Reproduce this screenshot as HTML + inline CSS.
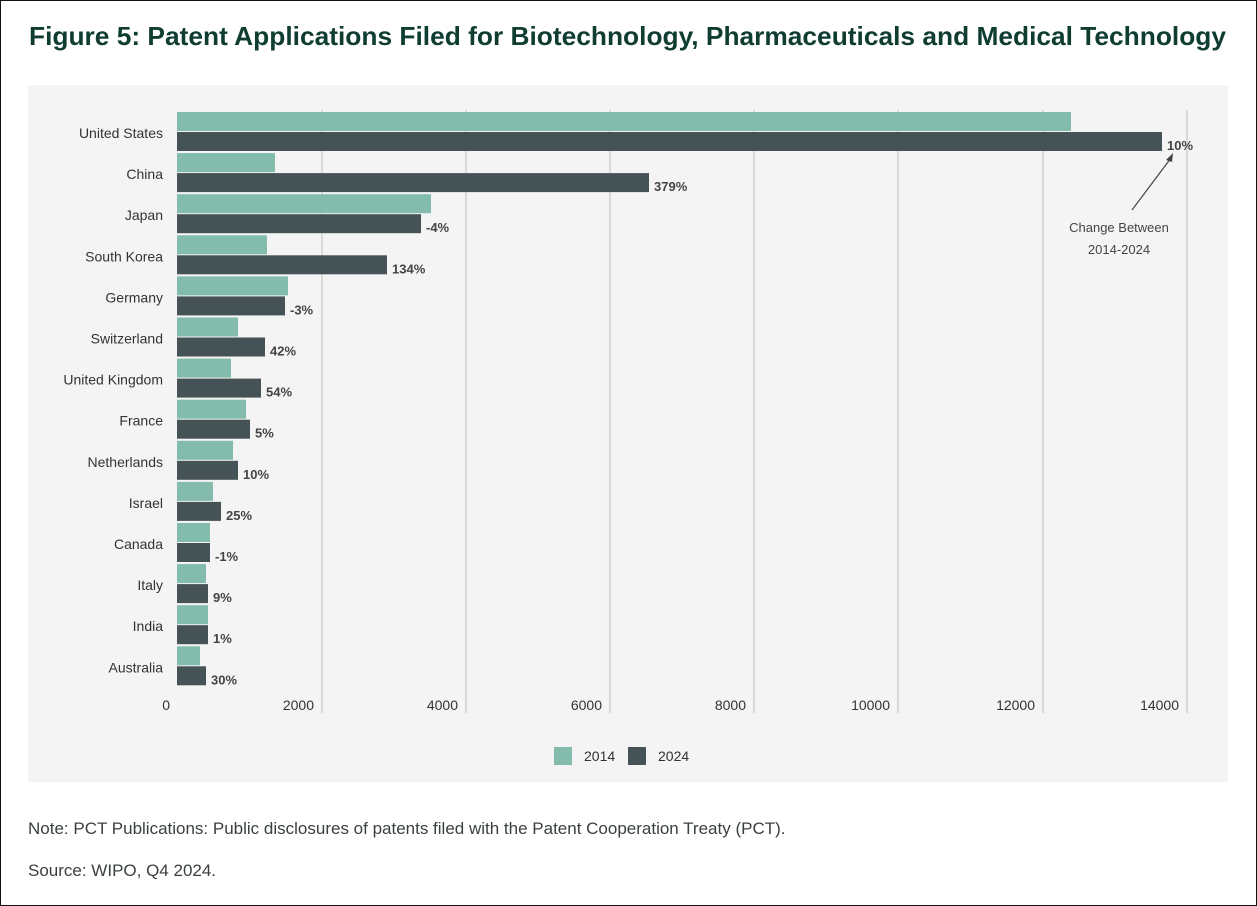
<!DOCTYPE html>
<html><head><meta charset="utf-8"><style>
html,body{margin:0;padding:0;background:#fff}
body{width:1257px;height:906px;position:relative;overflow:hidden;font-family:"Liberation Sans",sans-serif}
</style></head><body>
<svg width="1257" height="906" xmlns="http://www.w3.org/2000/svg" style="position:absolute;left:0;top:0">
<rect x="0.5" y="0.5" width="1256" height="905" fill="#fff" stroke="#111"/>
<text x="29" y="45" font-size="26" font-weight="bold" fill="#0f3d31" textLength="1197" lengthAdjust="spacingAndGlyphs" font-family="Liberation Sans, sans-serif">Figure 5: Patent Applications Filed for Biotechnology, Pharmaceuticals and Medical Technology</text>
<rect x="28" y="85" width="1200" height="697" fill="#f3f4f3"/>
<g stroke="#d9dbd9" stroke-width="2">
<line x1="322" y1="110" x2="322" y2="713"/><line x1="466" y1="110" x2="466" y2="713"/><line x1="610" y1="110" x2="610" y2="713"/><line x1="754" y1="110" x2="754" y2="713"/><line x1="898" y1="110" x2="898" y2="713"/><line x1="1043" y1="110" x2="1043" y2="713"/><line x1="1187" y1="110" x2="1187" y2="713"/>
</g>
<g font-size="14" fill="#333" text-anchor="end">
<text x="170" y="710">0</text><text x="314" y="710">2000</text><text x="458" y="710">4000</text><text x="602" y="710">6000</text><text x="746" y="710">8000</text><text x="890" y="710">10000</text><text x="1035" y="710">12000</text><text x="1179" y="710">14000</text>
</g>
<line x1="1132" y1="210" x2="1171" y2="158" stroke="#444" stroke-width="1.2"/>
<path d="M1173 153 L1166 160 L1172 162 Z" fill="#444"/>
<g font-size="13" fill="#444" text-anchor="middle"><text x="1119" y="232">Change Between</text><text x="1119" y="254">2014-2024</text></g>
<rect x="554" y="747" width="18" height="18" fill="#83bcad"/><text x="584" y="761" font-size="14" fill="#333">2014</text>
<rect x="628" y="747" width="18" height="18" fill="#465356"/><text x="658" y="761" font-size="14" fill="#333">2024</text>
<text x="28" y="834" font-size="17" fill="#3a3f3f">Note: PCT Publications: Public disclosures of patents filed with the Patent Cooperation Treaty (PCT).</text>
<text x="28" y="876" font-size="17" fill="#3a3f3f">Source: WIPO, Q4 2024.</text>
<g id="g">
</g>
</svg>
<script>
var d=[["United States",1071,1162,"10%"],["China",275,649,"379%"],["Japan",431,421,"-4%"],["South Korea",267,387,"134%"],["Germany",288,285,"-3%"],["Switzerland",238,265,"42%"],["United Kingdom",231,261,"54%"],["France",246,250,"5%"],["Netherlands",233,238,"10%"],["Israel",213,221,"25%"],["Canada",210,210,"-1%"],["Italy",206,208,"9%"],["India",208,208,"1%"],["Australia",200,206,"30%"]];
var s="";
d.forEach(function(r,i){var y=112+i*41.1;
s+='<rect x="177" y="'+y+'" width="'+(r[1]-177)+'" height="19" fill="#83bcad"/>';
s+='<rect x="177" y="'+(y+20)+'" width="'+(r[2]-177)+'" height="19" fill="#465356"/>';
s+='<text x="163" y="'+(y+26)+'" font-size="14" fill="#333" text-anchor="end">'+r[0]+'</text>';
s+='<text x="'+(r[2]+5)+'" y="'+(y+38)+'" font-size="13" font-weight="bold" fill="#444">'+r[3]+'</text>';});
document.getElementById("g").innerHTML=s;
</script>
</body></html>
